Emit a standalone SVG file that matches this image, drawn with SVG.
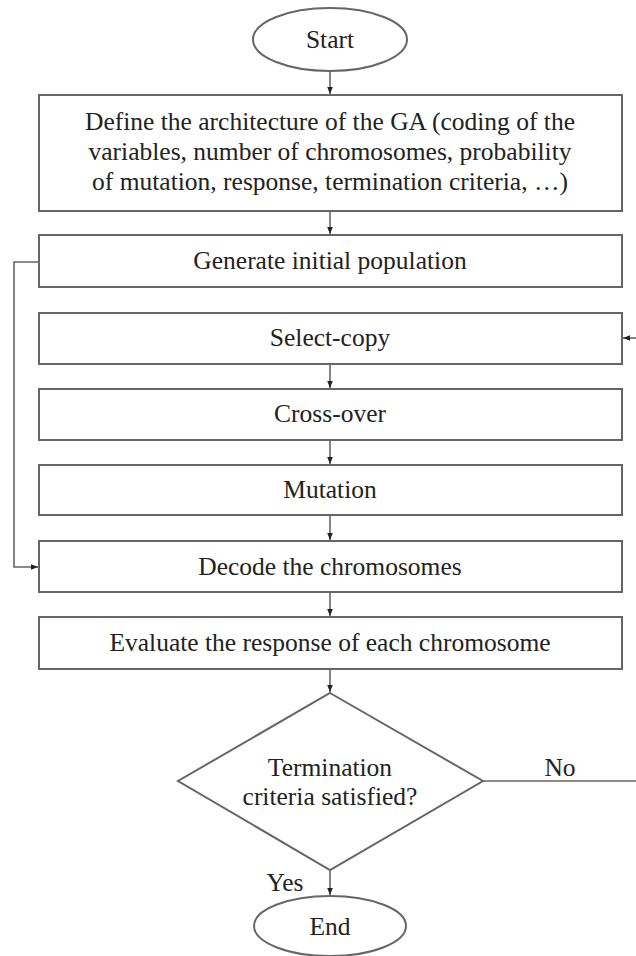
<svg xmlns="http://www.w3.org/2000/svg" width="636" height="956" viewBox="0 0 636 956">
<style>
.shape{fill:#fff;stroke:#666;stroke-width:2}
.txt{font-family:"Liberation Serif","Times New Roman",serif;font-size:25.5px;fill:#222;text-anchor:middle}
.conn{fill:none;stroke:#666;stroke-width:1.6}
</style>
<defs>
<marker id="ah" viewBox="0 0 10 10" refX="10" refY="5" markerWidth="7" markerHeight="7" markerUnits="userSpaceOnUse" orient="auto">
<path d="M0,1 L10,5 L0,9 Z" fill="#222"/>
</marker>
</defs>
<rect width="636" height="956" fill="#fff"/>
<g id="connectors">
<line class="conn" x1="330" y1="71" x2="330" y2="94" marker-end="url(#ah)"/>
<line class="conn" x1="330" y1="211" x2="330" y2="234" marker-end="url(#ah)"/>
<line class="conn" x1="330" y1="364" x2="330" y2="388" marker-end="url(#ah)"/>
<line class="conn" x1="330" y1="440" x2="330" y2="464" marker-end="url(#ah)"/>
<line class="conn" x1="330" y1="515" x2="330" y2="540" marker-end="url(#ah)"/>
<line class="conn" x1="330" y1="592" x2="330" y2="616" marker-end="url(#ah)"/>
<line class="conn" x1="330" y1="669" x2="330" y2="692" marker-end="url(#ah)"/>
<line class="conn" x1="330" y1="870" x2="330" y2="895" marker-end="url(#ah)"/>
<polyline class="conn" points="39,262 14,262 14,567 38,567" marker-end="url(#ah)"/>
<line class="conn" x1="483" y1="781" x2="636" y2="781"/>
<line class="conn" x1="636" y1="338" x2="623" y2="338" marker-end="url(#ah)"/>
<text class="txt" x="560" y="776">No</text>
<text class="txt" x="285" y="891">Yes</text>
</g>
<g id="start">
<ellipse class="shape" cx="330" cy="39.5" rx="77" ry="31.5"/>
<text class="txt" x="330" y="48">Start</text>
</g>
<g id="define">
<rect class="shape" x="39" y="95" width="583" height="116"/>
<text class="txt" x="330" y="130">Define the architecture of the GA (coding of the</text>
<text class="txt" x="330" y="160">variables, number of chromosomes, probability</text>
<text class="txt" x="330" y="190">of mutation, response, termination criteria, …)</text>
</g>
<g id="generate">
<rect class="shape" x="39" y="235" width="583" height="52"/>
<text class="txt" x="330" y="269">Generate initial population</text>
</g>
<g id="select">
<rect class="shape" x="39" y="313" width="583" height="51"/>
<text class="txt" x="330" y="346">Select-copy</text>
</g>
<g id="crossover">
<rect class="shape" x="39" y="389" width="583" height="51"/>
<text class="txt" x="330" y="422">Cross-over</text>
</g>
<g id="mutation">
<rect class="shape" x="39" y="465" width="583" height="50"/>
<text class="txt" x="330" y="498">Mutation</text>
</g>
<g id="decode">
<rect class="shape" x="39" y="541" width="583" height="51"/>
<text class="txt" x="330" y="575">Decode the chromosomes</text>
</g>
<g id="evaluate">
<rect class="shape" x="39" y="617" width="583" height="52"/>
<text class="txt" x="330" y="651">Evaluate the response of each chromosome</text>
</g>
<g id="decision">
<polygon class="shape" points="330,693 483,781 330,870 178,781"/>
<text class="txt" x="330" y="776">Termination</text>
<text class="txt" x="330" y="805">criteria satisfied?</text>
</g>
<g id="end">
<ellipse class="shape" cx="330" cy="926" rx="76" ry="30"/>
<text class="txt" x="330" y="935">End</text>
</g>
</svg>
